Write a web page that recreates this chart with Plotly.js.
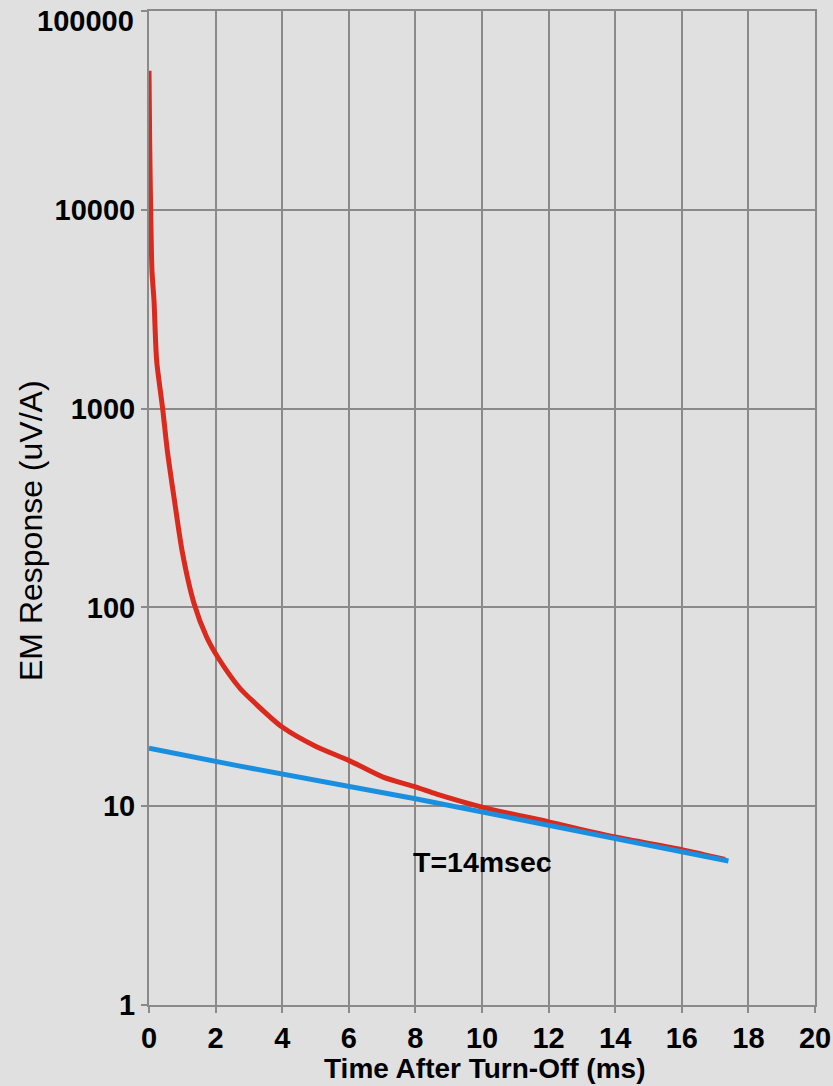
<!DOCTYPE html>
<html>
<head>
<meta charset="utf-8">
<script src="https://cdn.plot.ly/plotly-3.0.1.min.js"></script>
<style>
html,body{margin:0;padding:0;background:#e0e0e0;}
#chart{width:833px;height:1086px;}
</style>
</head>
<body>
<div id="chart"></div>
<script>
// Measured response (red)
var redTime = [0, 0.02, 0.05, 0.09, 0.15, 0.23, 0.41, 0.55, 0.76, 1.0, 1.35, 1.73, 2.1, 2.73, 3.06, 4, 5.03, 6, 7.03, 8, 8.64, 10, 12, 14, 16, 17.3];
var redValue = [50000, 22000, 10000, 4900, 3500, 1740, 1000, 615, 349, 190, 105, 71, 55, 39.2, 34.5, 25, 19.9, 17, 14, 12.5, 11.5, 9.9, 8.34, 7.0, 6.05, 5.4];
// Exponential fit, T = 14 msec (blue)
var blueTime = [0, 2.73, 8, 12, 17.4];
var blueValue = [19.6, 15.9, 10.9, 8.03, 5.3];
var xTickVals = [0, 2, 4, 6, 8, 10, 12, 14, 16, 18, 20];
var yTickVals = [1, 10, 100, 1000, 10000, 100000];
var yTickText = ["1", "10", "100", "1000", "10000", "100000"];
var fitLabel = "T=14msec";
var xTitle = "Time After Turn-Off (ms)";
var yTitle = "EM Response (uV/A)";

var gridColor = "#8a8a8a";
var fam = "Liberation Sans, Arial, sans-serif";
var W = 833, H = 1086, ML = 149, MR = 18, MT = 11, MB = 81;
var plotW = W - ML - MR, plotH = H - MT - MB;
function px(xp) { return (xp - ML) / plotW; }
function py(yp) { return (H - MB - yp) / plotH; }

// the top tick label sits just below its grid line in the reference: draw it as an annotation
var axisTickText = yTickText.slice(0, yTickText.length - 1).concat([""]);
var topTickText = yTickText[yTickText.length - 1];

var data = [
  {x: redTime, y: redValue, type: "scatter", mode: "lines",
   line: {color: "#da2a1d", width: 5, shape: "spline", smoothing: 0.7}, hoverinfo: "skip"},
  {x: blueTime, y: blueValue, type: "scatter", mode: "lines",
   line: {color: "#1a8fdf", width: 5}, hoverinfo: "skip"}
];

var layout = {
  width: W, height: H,
  margin: {l: ML, r: MR, t: MT, b: MB},
  paper_bgcolor: "#e0e0e0",
  plot_bgcolor: "#e0e0e0",
  showlegend: false,
  font: {family: fam, color: "#000"},
  xaxis: {
    range: [0, 20], tickvals: xTickVals, ticktext: xTickVals.map(String),
    showgrid: true, gridcolor: gridColor, gridwidth: 2,
    showline: true, linecolor: gridColor, linewidth: 2, mirror: true,
    ticks: "outside", ticklen: 6, tickcolor: gridColor, tickwidth: 2,
    zeroline: false, ticklabeloverflow: "allow",
    tickfont: {family: fam, size: 29, color: "#000", weight: "bold"}
  },
  yaxis: {
    type: "log", range: [0, 5], tickvals: yTickVals, ticktext: axisTickText,
    showgrid: true, gridcolor: gridColor, gridwidth: 2,
    showline: true, linecolor: gridColor, linewidth: 2, mirror: true,
    ticks: "outside", ticklen: 6, tickcolor: gridColor, tickwidth: 2,
    zeroline: false, ticklabeloverflow: "allow",
    tickfont: {family: fam, size: 29, color: "#000", weight: "bold"}
  },
  annotations: [
    {x: 10.0, y: Math.log10(5.24), xref: "x", yref: "y", text: fitLabel, showarrow: false,
     font: {family: fam, size: 28.5, color: "#000", weight: "bold"}},
    {x: px(485), y: py(1068), xref: "paper", yref: "paper", text: xTitle, showarrow: false,
     font: {family: fam, size: 28, color: "#000", weight: "bold"}, xanchor: "center", yanchor: "middle", borderpad: 0},
    {x: px(31), y: py(531), xref: "paper", yref: "paper", text: yTitle, showarrow: false, textangle: -90,
     font: {family: fam, size: 32, color: "#000"}, xanchor: "center", yanchor: "middle"},
    {x: px(135), y: py(21), xref: "paper", yref: "paper", text: topTickText, showarrow: false,
     font: {family: fam, size: 29, color: "#000", weight: "bold"}, xanchor: "right", yanchor: "middle", borderpad: 0}
  ]
};

Plotly.newPlot("chart", data, layout, {staticPlot: true, displayModeBar: false});
</script>
</body>
</html>
